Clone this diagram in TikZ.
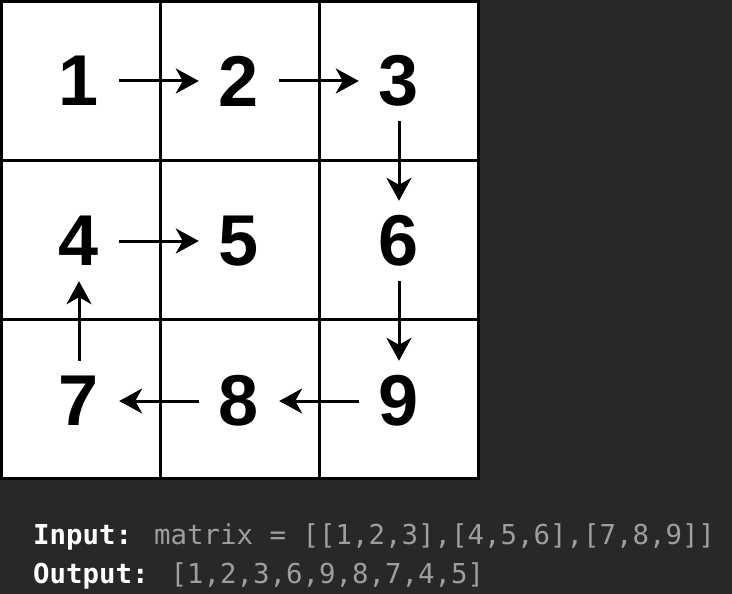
\documentclass[tikz,border=0pt]{standalone}
\usepackage{fontspec}
\usetikzlibrary{arrows.meta}
\newfontfamily\digitfont{Liberation Sans}
\newfontfamily\codefont{DejaVu Sans Mono}
\definecolor{panelbg}{RGB}{40,40,40}
\definecolor{codegrey}{RGB}{158,158,158}

\begin{document}
\begin{tikzpicture}[
    x=1pt,
    y=-1pt,
    cellgrid/.style={
      line width=3.2pt,
      color=black,
    },
    num/.style={
      circle,
      minimum size=80pt,
      inner sep=0,
      font=\digitfont\bfseries\fontsize{72}{72}\selectfont,
    },
    walk/.style={
      line width=3pt,
      -{Stealth[length=23pt,width=25pt,inset=7pt]},
    },
    codelabel/.style={
      anchor=base west,
      inner sep=0,
      font=\codefont\fontsize{27.4}{32}\selectfont,
      color=codegrey,
    },
  ]
    \fill[panelbg] (0,0) rectangle (732,594);
    \useasboundingbox (0,0) rectangle (732,594);

    % the 3x3 board
    \fill[white] (1.5,1.5) rectangle (478.5,478.5);
    \foreach \k in {160.5,319.5} {
      \draw[cellgrid] (\k,1.5) -- (\k,478.5);
      \draw[cellgrid] (1.5,\k) -- (478.5,\k);
    }
    \draw[cellgrid] (1.5,1.5) rectangle (478.5,478.5);

    \foreach \v in {1,...,9} {
      \pgfmathsetmacro\cx{79+160*mod(\v-1,3)}
      \pgfmathsetmacro\cy{81+160*int((\v-1)/3)}
      \node[num] (n\v) at (\cx,\cy) {\v};
    }

    % spiral order
    \draw[walk] (n1) -- (n2);
    \draw[walk] (n2) -- (n3);
    \draw[walk] (n3) -- (n6);
    \draw[walk] (n6) -- (n9);
    \draw[walk] (n9) -- (n8);
    \draw[walk] (n8) -- (n7);
    \draw[walk] (n7) -- (n4);
    \draw[walk] (n4) -- (n5);

    \node[codelabel] (inlabel) at (33,544)
      {\textcolor{white}{\bfseries Input:} matrix = [[1,2,3],[4,5,6],[7,8,9]]};
    \node[codelabel] (outlabel) at (33,583)
      {\textcolor{white}{\bfseries Output:} [1,2,3,6,9,8,7,4,5]};
  \end{tikzpicture}
\end{document}
